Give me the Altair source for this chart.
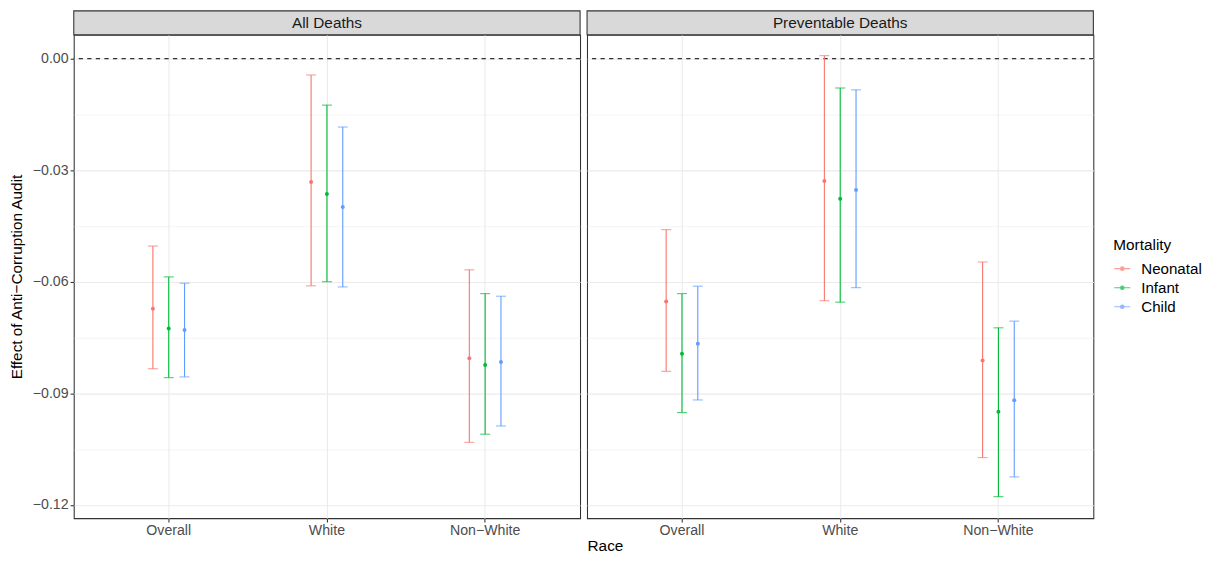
import altair as alt
import pandas as pd

# ---------------- data ----------------
panels = ["All Deaths", "Preventable Deaths"]
races = ["Overall", "White", "Non\u2212White"]
mortality = ["Neonatal", "Infant", "Child"]
colors = ["#F8766D", "#00BA38", "#619CFF"]

# order: race-major, mortality-minor (Neonatal, Infant, Child)
all_est = [-0.0673, -0.0726, -0.0730, -0.0332, -0.0364, -0.0399, -0.0806, -0.0824, -0.0816]
all_lo = [-0.0834, -0.0858, -0.0856, -0.0611, -0.0600, -0.0614, -0.1032, -0.1010, -0.0988]
all_hi = [-0.0504, -0.0587, -0.0604, -0.0044, -0.0125, -0.0184, -0.0568, -0.0632, -0.0639]

prev_est = [-0.0653, -0.0794, -0.0767, -0.0329, -0.0377, -0.0353, -0.0812, -0.0950, -0.0919]
prev_lo = [-0.0841, -0.0952, -0.0918, -0.0651, -0.0655, -0.0616, -0.1073, -0.1178, -0.1125]
prev_hi = [-0.0460, -0.0632, -0.0612, 0.0008, -0.0079, -0.0084, -0.0547, -0.0724, -0.0706]

y_breaks = [-0.12, -0.105, -0.09, -0.075, -0.06, -0.045, -0.03, -0.015, 0.0]
y_domain = [-0.1236, 0.0064]
ref_line = [0.0]

# ---------------- style ----------------
W, H = 508, 485
STRIP_H = 24
FONT = "Liberation Sans"
major_test = "round(datum.value*1000) % 30 == 0"
BAND = W / 3.2           # band width of each race category
DODGE = 0.1 * BAND       # dodge distance between mortality groups
OFFSET_RANGE = [BAND / 2 - 1.5 * DODGE, BAND / 2 + 1.5 * DODGE]


def y_axis(show):
    common = dict(
        values=y_breaks,
        grid=True,
        gridColor="#EBEBEB",
        gridWidth={"condition": {"test": major_test, "value": 1.07}, "value": 0.53},
        domain=False,
    )
    if show:
        return alt.Axis(
            title="Effect of Anti\u2212Corruption Audit",
            titleFontSize=15.4,
            titleFontWeight="normal",
            titleColor="#000000",
            titlePadding=8,
            format=".2f",
            labelExpr=f"{major_test} ? datum.label : ''",
            labelFontSize=14.2,
            labelColor="#4D4D4D",
            labelPadding=2,
            tickColor="#333333",
            tickSize=3.7,
            tickWidth=1.07,
            tickOpacity={"condition": {"test": major_test, "value": 1}, "value": 0},
            **common,
        )
    return alt.Axis(
        title=None, labels=False, ticks=False, minExtent=0, maxExtent=0,
        labelPadding=0, tickSize=0, **common
    )


def panel(name, est, lo, hi, show_y):
    df = pd.DataFrame(
        {
            "Race": [r for r in races for _ in mortality],
            "Mortality": mortality * len(races),
            "est": est,
            "lo": lo,
            "hi": hi,
        }
    )
    x = alt.X(
        "Race:N",
        sort=races,
        scale=alt.Scale(paddingInner=0, paddingOuter=0.1),
        axis=alt.Axis(
            title=None,
            labelAngle=0,
            labelFontSize=14.2,
            labelColor="#4D4D4D",
            labelPadding=2,
            tickColor="#333333",
            tickSize=3.7,
            tickWidth=1.07,
            grid=True,
            gridColor="#EBEBEB",
            gridWidth=1.07,
            bandPosition=0.5,
            domain=False,
        ),
    )
    xo = alt.XOffset(
        "Mortality:N",
        sort=mortality,
        scale=alt.Scale(domain=mortality, paddingInner=0, paddingOuter=0, range=OFFSET_RANGE),
    )
    color = alt.Color(
        "Mortality:N",
        sort=mortality,
        scale=alt.Scale(domain=mortality, range=colors),
        legend=alt.Legend(title="Mortality"),
    )
    yscale = alt.Scale(domain=y_domain, nice=False, zero=False)

    base = alt.Chart(df)
    grid_layer = base.mark_point(opacity=0).encode(
        x=x, y=alt.Y("est:Q", scale=yscale, axis=y_axis(show_y))
    )
    ref = (
        alt.Chart(pd.DataFrame({"v": ref_line}))
        .mark_rule(color="#333333", strokeWidth=1.07, strokeDash=[4.3, 4.3])
        .encode(y=alt.Y("v:Q", scale=yscale))
    )
    bars = base.mark_rule(strokeWidth=1.1).encode(
        x=x, xOffset=xo, y=alt.Y("lo:Q", scale=yscale), y2="hi:Q", color=color
    )
    cap_lo = base.mark_tick(size=10, thickness=1.1).encode(
        x=x, xOffset=xo, y=alt.Y("lo:Q", scale=yscale), color=color
    )
    cap_hi = base.mark_tick(size=10, thickness=1.1).encode(
        x=x, xOffset=xo, y=alt.Y("hi:Q", scale=yscale), color=color
    )
    pts = base.mark_circle(size=16, opacity=1).encode(
        x=x, xOffset=xo, y=alt.Y("est:Q", scale=yscale), color=color
    )
    sdf = pd.DataFrame({"panel": [name]})
    strip = (
        alt.Chart(sdf)
        .mark_rect(fill="#D9D9D9", stroke="#333333", strokeWidth=1.07)
        .encode(
            x=alt.value(0), x2=alt.value(W), y=alt.value(-STRIP_H), y2=alt.value(0)
        )
    )
    strip_text = (
        alt.Chart(sdf)
        .mark_text(fontSize=15.4, color="#1A1A1A", baseline="middle", align="center", font=FONT)
        .encode(x=alt.value(W / 2), y=alt.value(-STRIP_H / 2), text="panel:N")
    )
    return alt.layer(grid_layer, ref, bars, cap_lo, cap_hi, pts, strip, strip_text).properties(
        width=W, height=H
    )


left = panel(panels[0], all_est, all_lo, all_hi, True)
right = panel(panels[1], prev_est, prev_lo, prev_hi, False)

chart = (
    alt.hconcat(left, right, spacing=3)
    .properties(
        padding={"left": 0, "top": 0, "right": 0, "bottom": 0},
        title=alt.TitleParams(
            "Race",
            orient="bottom",
            anchor="middle",
            fontSize=15.4,
            fontWeight="normal",
            color="#000000",
            font=FONT,
            offset=0,
        ),
    )
    .configure(font=FONT, background="white")
    .configure_view(stroke="#333333", strokeWidth=1.07, fill="white")
    .configure_legend(
        orient="none",
        legendX=1043,
        legendY=204,
        titleFontSize=15.4,
        titleFontWeight="normal",
        titleColor="#000000",
        labelFontSize=15.2,
        labelColor="#000000",
        symbolType="M-1,0H1M0.22,0A0.22,0.22 0 1,1 -0.22,0A0.22,0.22 0 1,1 0.22,0Z",
        symbolSize=256,
        symbolStrokeWidth=1.07,
        rowPadding=1.1,
        labelOffset=10,
        titlePadding=6.2,
    )
)

chart.save("out.html", embed_options={"renderer": "svg", "actions": False})
